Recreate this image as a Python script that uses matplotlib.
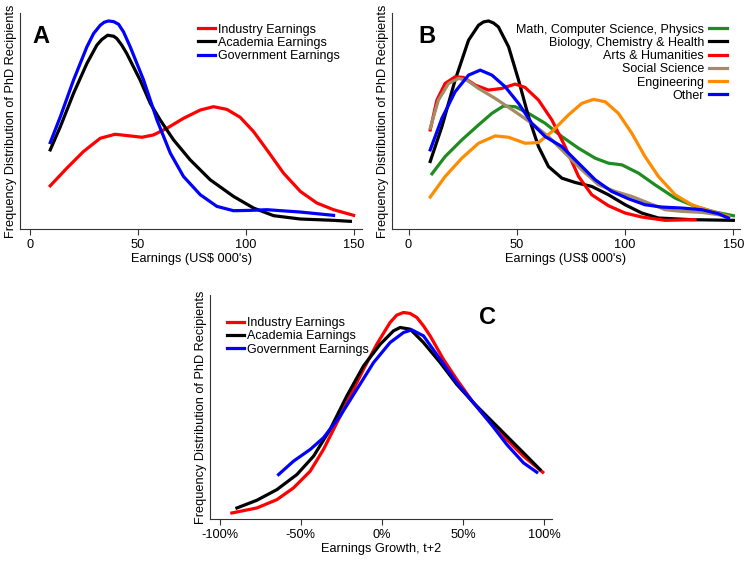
import matplotlib.pyplot as plt

plt.rcParams['font.family'] = ['Liberation Sans', 'DejaVu Sans']

# Panel A: earnings distribution by sector (arbitrary density units)
a_ind_x = [9.3, 17, 24.7, 32.5, 39.4, 46.4, 51.8, 57.2, 63.4, 71.1, 78.9, 85, 91.2, 97.4, 103.6, 109.8, 117.5, 125.3, 133, 140.7, 150]
a_ind_y = [1.30, 1.83, 2.33, 2.73, 2.85, 2.80, 2.76, 2.83, 3.03, 3.33, 3.58, 3.68, 3.60, 3.36, 2.93, 2.38, 1.68, 1.13, 0.78, 0.58, 0.41]
a_aca_x = [9.3, 14, 20.1, 26.3, 30.9, 33.2, 35.9, 38.7, 40.2, 42.5, 44.8, 51, 55.7, 60.3, 66.5, 74.2, 83.5, 94.3, 103.6, 112.9, 125.3, 140.7, 148.5]
a_aca_y = [2.38, 3.08, 4.08, 4.98, 5.53, 5.70, 5.83, 5.80, 5.73, 5.53, 5.28, 4.48, 3.78, 3.28, 2.68, 2.08, 1.48, 0.98, 0.63, 0.40, 0.30, 0.26, 0.23]
a_gov_x = [9.3, 14, 20.1, 26.3, 29.4, 32.5, 34.3, 36.3, 38.7, 41, 43.3, 46.4, 52.6, 58.8, 65, 71.1, 78.9, 86.6, 94.3, 102, 109.8, 125.3, 140.7]
a_gov_y = [2.60, 3.38, 4.48, 5.48, 5.88, 6.13, 6.22, 6.26, 6.24, 6.16, 5.93, 5.48, 4.48, 3.28, 2.28, 1.58, 1.03, 0.68, 0.55, 0.56, 0.58, 0.51, 0.41]

# Panel B: earnings distribution by field
b_mat_x = [10.8, 16.9, 24.6, 32.3, 38.5, 43.8, 49.2, 55.4, 63.1, 70.8, 78.5, 86.2, 92.3, 98.5, 106.2, 113.8, 123.1, 132.3, 141.5, 150]
b_mat_y = [1.66, 2.18, 2.68, 3.13, 3.48, 3.70, 3.68, 3.48, 3.18, 2.78, 2.43, 2.13, 1.98, 1.93, 1.68, 1.33, 0.93, 0.68, 0.51, 0.40]
b_bio_x = [10, 15.4, 21.5, 27.7, 32.3, 34.6, 36.9, 39.2, 41.5, 46.2, 50.8, 55.4, 60, 64.6, 70.8, 76.9, 84.6, 92.3, 100, 107.7, 115.4, 130.8, 150]
b_bio_y = [2.03, 3.08, 4.48, 5.68, 6.13, 6.23, 6.26, 6.20, 6.08, 5.48, 4.48, 3.38, 2.48, 1.88, 1.53, 1.40, 1.28, 1.03, 0.73, 0.48, 0.33, 0.28, 0.26]
b_art_x = [10, 13.1, 16.9, 21.5, 25.4, 30.8, 36.9, 43.1, 49.2, 53.8, 60, 66.2, 72.3, 78.5, 84.6, 92.3, 100, 107.7, 118.5, 132.3]
b_art_y = [2.98, 3.88, 4.38, 4.58, 4.56, 4.33, 4.18, 4.23, 4.36, 4.26, 3.88, 3.28, 2.48, 1.58, 1.03, 0.70, 0.48, 0.36, 0.26, 0.28]
b_soc_x = [10, 13.8, 18.5, 23.1, 26.9, 32.3, 40, 49.2, 56.9, 64.6, 72.3, 80, 87.7, 95.4, 103.1, 110.8, 118.5, 126.2, 135.4, 143.1, 147.7]
b_soc_y = [3.03, 3.88, 4.38, 4.53, 4.48, 4.23, 3.93, 3.53, 3.18, 2.78, 2.28, 1.78, 1.33, 1.13, 0.98, 0.78, 0.58, 0.53, 0.50, 0.43, 0.36]
b_eng_x = [10, 16.9, 24.6, 32.3, 40, 46.2, 53.8, 60, 66.2, 73.8, 80, 85.4, 90.8, 96.9, 103.1, 109.2, 115.4, 123.1, 130.8, 138.5, 147.7]
b_eng_y = [0.96, 1.58, 2.13, 2.58, 2.80, 2.76, 2.58, 2.60, 2.93, 3.43, 3.78, 3.90, 3.83, 3.48, 2.88, 2.18, 1.58, 1.03, 0.73, 0.56, 0.38]
b_oth_x = [10, 15.4, 21.5, 27.7, 33.1, 38.5, 44.6, 50.8, 56.9, 63.1, 70.8, 78.5, 86.2, 93.8, 101.5, 109.2, 116.9, 126.2, 135.4, 143.1, 147.7]
b_oth_y = [2.38, 3.33, 4.13, 4.63, 4.78, 4.63, 4.28, 3.78, 3.18, 2.78, 2.48, 1.98, 1.48, 1.13, 0.91, 0.73, 0.66, 0.63, 0.58, 0.46, 0.33]

# Panel C: earnings growth distribution by sector
c_ind_x = [-92.5, -77.1, -64.7, -54.5, -44.2, -36, -27.7, -19.5, -11.3, -3.1, 5.1, 9.2, 13.4, 17.5, 21.6, 25.7, 29.8, 38, 46.2, 56.5, 66.8, 77.1, 87.4, 99.3]
c_ind_y = [0.18, 0.33, 0.58, 0.93, 1.43, 2.08, 2.88, 3.68, 4.48, 5.23, 5.88, 6.10, 6.18, 6.15, 6.03, 5.78, 5.48, 4.78, 4.18, 3.48, 2.88, 2.38, 1.88, 1.40]
c_aca_x = [-89.4, -77.1, -64.7, -52.4, -42.1, -31.9, -21.6, -11.3, -1, 7.2, 11.3, 17.5, 25.7, 36, 46.2, 56.5, 66.8, 77.1, 87.4, 97.6]
c_aca_y = [0.33, 0.56, 0.88, 1.33, 1.88, 2.68, 3.68, 4.58, 5.23, 5.63, 5.73, 5.68, 5.28, 4.68, 4.03, 3.48, 2.98, 2.48, 1.98, 1.48]
c_gov_x = [-63.7, -54.5, -44.2, -36, -25.7, -15.4, -5.1, 5.1, 13.4, 18.5, 25.7, 36, 46.2, 56.5, 66.8, 77.1, 87.4, 95.6]
c_gov_y = [1.33, 1.73, 2.08, 2.43, 3.08, 3.88, 4.68, 5.28, 5.58, 5.66, 5.48, 4.78, 4.08, 3.48, 2.88, 2.23, 1.68, 1.40]

ylabel = "Frequency Distribution of PhD Recipients"
lw = 2.3
fs = 9.2


def style(ax):
    for s in ["top", "right"]:
        ax.spines[s].set_visible(False)
    for s in ["left", "bottom"]:
        ax.spines[s].set_color("#333333")
        ax.spines[s].set_linewidth(0.8)
    ax.set_yticks([])
    ax.tick_params(axis="x", length=4, width=0.8, color="#333333", labelsize=fs, pad=3)
    ax.set_ylabel(ylabel, fontsize=fs, labelpad=2)


fig = plt.figure(figsize=(7.5, 5.64), dpi=100)

# A
ax = fig.add_axes([0.027, 0.594, 0.456, 0.383])
ax.plot(a_ind_x, a_ind_y, color="red", lw=lw, label="Industry Earnings")
ax.plot(a_aca_x, a_aca_y, color="black", lw=lw, label="Academia Earnings")
ax.plot(a_gov_x, a_gov_y, color="blue", lw=lw, label="Government Earnings")
ax.set_xlim(-4.6, 154)
ax.set_ylim(0, 6.5)
ax.set_xticks([0, 50, 100, 150])
ax.set_xlabel("Earnings (US$ 000's)", fontsize=fs, labelpad=2)
style(ax)
ax.legend(loc="upper left", bbox_to_anchor=(0.5, 0.98), frameon=False, fontsize=9,
          handlelength=1.4, handletextpad=0.2, labelspacing=0.1, borderpad=0)
ax.text(0.06, 0.89, "A", transform=ax.transAxes, fontsize=17, fontweight="bold", ha="center", va="center")

# B
ax = fig.add_axes([0.5225, 0.594, 0.464, 0.383])
ax.plot(b_mat_x, b_mat_y, color="#1e8c1e", lw=lw, label="Math, Computer Science, Physics")
ax.plot(b_bio_x, b_bio_y, color="black", lw=lw, label="Biology, Chemistry & Health")
ax.plot(b_art_x, b_art_y, color="red", lw=lw, label="Arts & Humanities")
ax.plot(b_soc_x, b_soc_y, color="#a48c66", lw=lw, label="Social Science")
ax.plot(b_eng_x, b_eng_y, color="#ff8c00", lw=lw, label="Engineering")
ax.plot(b_oth_x, b_oth_y, color="blue", lw=lw, label="Other")
ax.set_xlim(-7.7, 153)
ax.set_ylim(0, 6.5)
ax.set_xticks([0, 50, 100, 150])
ax.set_xlabel("Earnings (US$ 000's)", fontsize=fs, labelpad=2)
style(ax)
ax.legend(loc="upper right", bbox_to_anchor=(0.98, 0.98), frameon=False, fontsize=9, markerfirst=False,
          handlelength=1.4, handletextpad=0.4, labelspacing=0.1, borderpad=0)
ax.text(0.1, 0.89, "B", transform=ax.transAxes, fontsize=17, fontweight="bold", ha="center", va="center")

# C
ax = fig.add_axes([0.28, 0.0798, 0.456, 0.397])
ax.plot(c_ind_x, c_ind_y, color="red", lw=lw, label="Industry Earnings")
ax.plot(c_aca_x, c_aca_y, color="black", lw=lw, label="Academia Earnings")
ax.plot(c_gov_x, c_gov_y, color="blue", lw=lw, label="Government Earnings")
ax.set_xlim(-106, 105)
ax.set_ylim(0, 6.7)
ax.set_xticks([-100, -50, 0, 50, 100])
ax.set_xticklabels(["-100%", "-50%", "0%", "50%", "100%"])
ax.set_xlabel("Earnings Growth, t+2", fontsize=fs, labelpad=2)
style(ax)
ax.legend(loc="upper left", bbox_to_anchor=(0.03, 0.93), frameon=False, fontsize=9,
          handlelength=1.4, handletextpad=0.2, labelspacing=0.1, borderpad=0)
ax.text(0.81, 0.9, "C", transform=ax.transAxes, fontsize=17, fontweight="bold", ha="center", va="center")

fig.savefig("out.png", dpi=100)
